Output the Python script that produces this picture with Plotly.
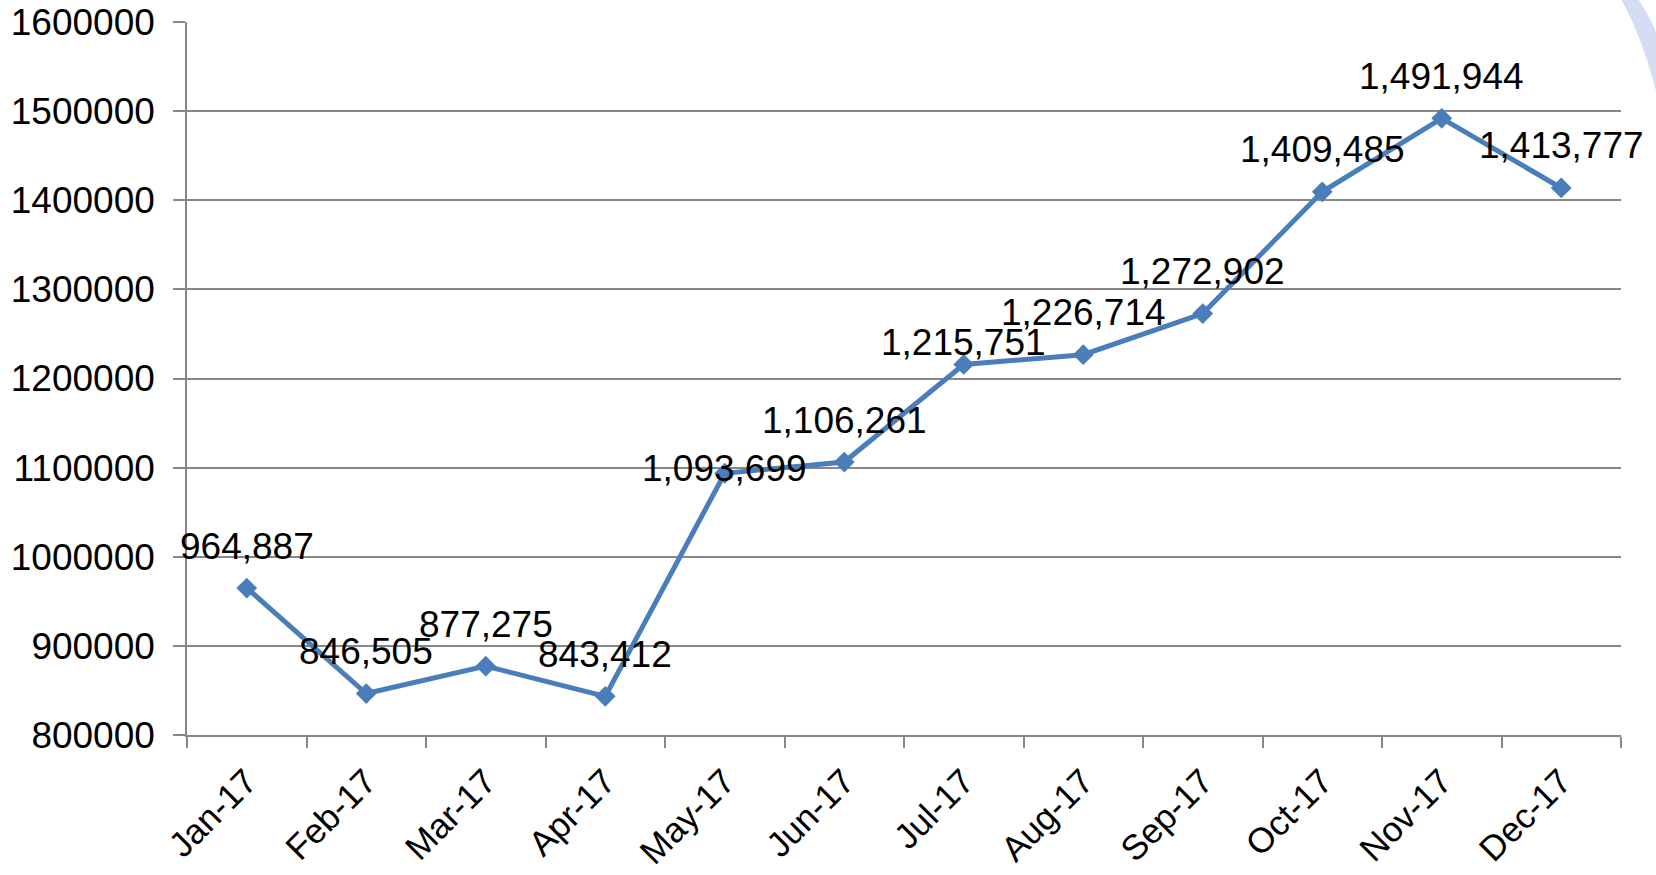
import plotly.graph_objects as go

# monthly totals, 2017
months = ['Jan-17', 'Feb-17', 'Mar-17', 'Apr-17', 'May-17', 'Jun-17',
          'Jul-17', 'Aug-17', 'Sep-17', 'Oct-17', 'Nov-17', 'Dec-17']
totals = [964887, 846505, 877275, 843412, 1093699, 1106261,
          1215751, 1226714, 1272902, 1409485, 1491944, 1413777]

y_ticks = list(range(800000, 1600001, 100000))

FONT = 'Liberation Sans, Arial, sans-serif'
BLUE = '#4A7EBB'
GRID = '#878787'

# labels sit ~42px above each point; a couple were nudged down in the original
label_shift = {'May-17': 5, 'Jul-17': 22}

fig = go.Figure()
fig.add_trace(go.Scatter(
    x=months, y=totals, mode='lines+markers',
    line=dict(color=BLUE, width=5),
    marker=dict(symbol='diamond', size=16, color=BLUE),
    hoverinfo='x+y', showlegend=False,
))

for m, v in zip(months, totals):
    fig.add_annotation(
        x=m, y=v, text=f'{v:,}', showarrow=False,
        yanchor='middle', yshift=label_shift.get(m, 42),
        font=dict(family=FONT, size=37, color='black'),
    )

# faint blue arc in the top right corner (from the background picture)
fig.add_shape(
    type='path', xref='paper', yref='paper', layer='below',
    path='M 1.012 1.032 Q 1.03 0.98 1.04 0.88 L 1.03 0.85 Q 1.02 0.96 1.0 1.032 Z',
    fillcolor='rgba(120,140,220,0.3)', line=dict(width=0),
)

fig.update_layout(
    width=1656, height=875,
    margin=dict(l=187, r=35, t=22, b=140),
    paper_bgcolor='white', plot_bgcolor='white',
    font=dict(family=FONT, size=36, color='black'),
    xaxis=dict(
        type='category', tickson='boundaries', range=[-0.5, 11.5],
        showgrid=False, showline=True, linecolor=GRID, linewidth=1.5,
        ticks='outside', ticklen=11, tickwidth=1.5, tickcolor=GRID,
        tickangle=-45, tickfont=dict(size=35), ticklabelstandoff=10,
        automargin=False,
    ),
    yaxis=dict(
        range=[800000, 1600000], tickvals=y_ticks,
        tickformat='d',
        showgrid=True, gridcolor=GRID, gridwidth=1.5,
        showline=True, linecolor=GRID, linewidth=1.5,
        ticks='outside', ticklen=12, tickwidth=1.5, tickcolor=GRID,
        ticklabelstandoff=11, zeroline=False,
        tickfont=dict(size=37),
        automargin=False,
    ),
)

fig.write_html('out.html', config={'displayModeBar': False},
               post_script="document.body.style.margin='0';")
